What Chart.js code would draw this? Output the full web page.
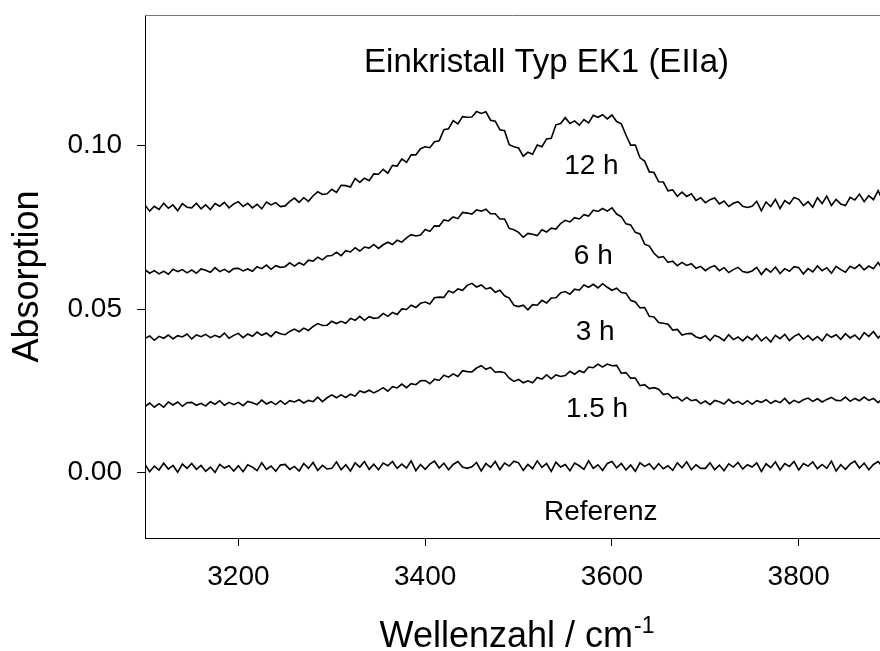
<!DOCTYPE html>
<html>
<head>
<meta charset="utf-8">
<script src="https://cdn.jsdelivr.net/npm/chart.js@4"></script>
<style>
  html, body { margin: 0; padding: 0; background: #fff; }
  canvas { display: block; }
</style>
</head>
<body>
<canvas id="spectra" width="880" height="651"></canvas>
<script>
// wavenumber grid in cm^-1
const wavenumbers = [
  3100, 3105, 3110, 3115, 3120, 3125, 3130, 3135, 3140, 3145,
  3150, 3155, 3160, 3165, 3170, 3175, 3180, 3185, 3190, 3195,
  3200, 3205, 3210, 3215, 3220, 3225, 3230, 3235, 3240, 3245,
  3250, 3255, 3260, 3265, 3270, 3275, 3280, 3285, 3290, 3295,
  3300, 3305, 3310, 3315, 3320, 3325, 3330, 3335, 3340, 3345,
  3350, 3355, 3360, 3365, 3370, 3375, 3380, 3385, 3390, 3395,
  3400, 3405, 3410, 3415, 3420, 3425, 3430, 3435, 3440, 3445,
  3450, 3455, 3460, 3465, 3470, 3475, 3480, 3485, 3490, 3495,
  3500, 3505, 3510, 3515, 3520, 3525, 3530, 3535, 3540, 3545,
  3550, 3555, 3560, 3565, 3570, 3575, 3580, 3585, 3590, 3595,
  3600, 3605, 3610, 3615, 3620, 3625, 3630, 3635, 3640, 3645,
  3650, 3655, 3660, 3665, 3670, 3675, 3680, 3685, 3690, 3695,
  3700, 3705, 3710, 3715, 3720, 3725, 3730, 3735, 3740, 3745,
  3750, 3755, 3760, 3765, 3770, 3775, 3780, 3785, 3790, 3795,
  3800, 3805, 3810, 3815, 3820, 3825, 3830, 3835, 3840, 3845,
  3850, 3855, 3860, 3865, 3870, 3875, 3880, 3885, 3890
];

// absorption spectra, each trace already shifted by its stacking offset
const absRef = [
  0.0025, 0.0003, 0.0020, 0.0008, 0.0029, 0.0011, 0.0022, 0.0001, 0.0026, 0.0013,
  0.0028, 0.0010, 0.0022, 0.0004, 0.0017, 0.0001, 0.0025, 0.0014, 0.0021, 0.0005,
  0.0021, 0.0003, 0.0024, 0.0017, 0.0006, 0.0030, 0.0010, 0.0020, 0.0004, 0.0023,
  0.0025, 0.0010, 0.0019, 0.0005, 0.0028, 0.0013, 0.0031, 0.0007, 0.0022, 0.0011,
  0.0013, 0.0033, 0.0009, 0.0024, 0.0005, 0.0030, 0.0017, 0.0034, 0.0010, 0.0026,
  0.0009, 0.0029, 0.0021, 0.0034, 0.0013, 0.0026, 0.0014, 0.0036, 0.0006, 0.0025,
  0.0010, 0.0026, 0.0035, 0.0014, 0.0029, 0.0009, 0.0025, 0.0034, 0.0017, 0.0013,
  0.0018, 0.0031, 0.0005, 0.0028, 0.0016, 0.0034, 0.0009, 0.0029, 0.0020, 0.0035,
  0.0030, 0.0007, 0.0025, 0.0012, 0.0036, 0.0016, 0.0028, 0.0004, 0.0032, 0.0017,
  0.0025, 0.0006, 0.0029, 0.0021, 0.0010, 0.0036, 0.0013, 0.0024, 0.0007, 0.0028,
  0.0034, 0.0015, 0.0028, 0.0008, 0.0023, 0.0004, 0.0030, 0.0019, 0.0027, 0.0010,
  0.0027, 0.0012, 0.0021, 0.0007, 0.0030, 0.0015, 0.0033, 0.0009, 0.0024, 0.0013,
  0.0013, 0.0030, 0.0009, 0.0023, 0.0006, 0.0027, 0.0017, 0.0031, 0.0011, 0.0024,
  0.0017, 0.0030, 0.0004, 0.0027, 0.0015, 0.0033, 0.0008, 0.0028, 0.0019, 0.0034,
  0.0008, 0.0028, 0.0020, 0.0033, 0.0012, 0.0025, 0.0013, 0.0035, 0.0005, 0.0024,
  0.0010, 0.0026, 0.0035, 0.0014, 0.0029, 0.0009, 0.0025, 0.0034, 0.0017
];
const abs1h5 = [
  0.0202, 0.0213, 0.0200, 0.0211, 0.0200, 0.0216, 0.0207, 0.0216, 0.0203, 0.0214,
  0.0215, 0.0206, 0.0212, 0.0204, 0.0217, 0.0209, 0.0220, 0.0206, 0.0215, 0.0208,
  0.0215, 0.0205, 0.0218, 0.0214, 0.0208, 0.0222, 0.0210, 0.0217, 0.0208, 0.0220,
  0.0209, 0.0220, 0.0216, 0.0223, 0.0213, 0.0221, 0.0217, 0.0231, 0.0217, 0.0229,
  0.0238, 0.0229, 0.0238, 0.0230, 0.0240, 0.0234, 0.0250, 0.0245, 0.0252, 0.0244,
  0.0251, 0.0260, 0.0249, 0.0263, 0.0259, 0.0271, 0.0260, 0.0272, 0.0269, 0.0281,
  0.0282, 0.0272, 0.0286, 0.0282, 0.0298, 0.0292, 0.0302, 0.0294, 0.0312, 0.0309,
  0.0308, 0.0320, 0.0327, 0.0316, 0.0322, 0.0307, 0.0309, 0.0306, 0.0289, 0.0279,
  0.0285, 0.0275, 0.0281, 0.0275, 0.0291, 0.0286, 0.0299, 0.0287, 0.0299, 0.0294,
  0.0297, 0.0310, 0.0301, 0.0312, 0.0306, 0.0323, 0.0321, 0.0332, 0.0323, 0.0332,
  0.0327, 0.0328, 0.0304, 0.0306, 0.0289, 0.0289, 0.0266, 0.0269, 0.0257, 0.0260,
  0.0255, 0.0239, 0.0242, 0.0228, 0.0231, 0.0219, 0.0230, 0.0220, 0.0223, 0.0211,
  0.0219, 0.0208, 0.0221, 0.0217, 0.0210, 0.0224, 0.0212, 0.0218, 0.0209, 0.0220,
  0.0209, 0.0220, 0.0215, 0.0223, 0.0212, 0.0220, 0.0214, 0.0227, 0.0211, 0.0221,
  0.0214, 0.0223, 0.0228, 0.0218, 0.0226, 0.0216, 0.0224, 0.0230, 0.0221, 0.0220,
  0.0231, 0.0218, 0.0227, 0.0220, 0.0231, 0.0221, 0.0227, 0.0214, 0.0228
];
const abs3h = [
  0.0411, 0.0418, 0.0405, 0.0417, 0.0411, 0.0421, 0.0409, 0.0419, 0.0415, 0.0424,
  0.0409, 0.0421, 0.0416, 0.0423, 0.0413, 0.0420, 0.0414, 0.0427, 0.0411, 0.0420,
  0.0426, 0.0413, 0.0424, 0.0417, 0.0430, 0.0420, 0.0427, 0.0416, 0.0431, 0.0425,
  0.0422, 0.0432, 0.0439, 0.0431, 0.0442, 0.0435, 0.0447, 0.0456, 0.0450, 0.0451,
  0.0463, 0.0456, 0.0463, 0.0457, 0.0472, 0.0466, 0.0478, 0.0466, 0.0477, 0.0472,
  0.0474, 0.0487, 0.0478, 0.0490, 0.0484, 0.0501, 0.0499, 0.0512, 0.0505, 0.0518,
  0.0522, 0.0516, 0.0535, 0.0537, 0.0536, 0.0556, 0.0550, 0.0562, 0.0558, 0.0573,
  0.0579, 0.0568, 0.0574, 0.0562, 0.0566, 0.0552, 0.0558, 0.0541, 0.0534, 0.0512,
  0.0508, 0.0512, 0.0498, 0.0514, 0.0512, 0.0527, 0.0519, 0.0534, 0.0535, 0.0550,
  0.0554, 0.0546, 0.0561, 0.0558, 0.0574, 0.0567, 0.0576, 0.0565, 0.0578, 0.0567,
  0.0558, 0.0564, 0.0551, 0.0549, 0.0527, 0.0522, 0.0504, 0.0505, 0.0478, 0.0476,
  0.0459, 0.0457, 0.0454, 0.0436, 0.0438, 0.0421, 0.0425, 0.0426, 0.0415, 0.0411,
  0.0419, 0.0404, 0.0420, 0.0414, 0.0404, 0.0422, 0.0407, 0.0415, 0.0403, 0.0417,
  0.0406, 0.0421, 0.0403, 0.0415, 0.0400, 0.0420, 0.0410, 0.0423, 0.0404, 0.0417,
  0.0424, 0.0408, 0.0419, 0.0405, 0.0416, 0.0403, 0.0424, 0.0414, 0.0422, 0.0408,
  0.0425, 0.0412, 0.0421, 0.0407, 0.0428, 0.0417, 0.0432, 0.0412, 0.0426
];
const abs6h = [
  0.0621, 0.0610, 0.0618, 0.0608, 0.0616, 0.0607, 0.0622, 0.0615, 0.0621, 0.0611,
  0.0620, 0.0610, 0.0623, 0.0619, 0.0613, 0.0627, 0.0615, 0.0622, 0.0613, 0.0624,
  0.0625, 0.0617, 0.0623, 0.0616, 0.0630, 0.0624, 0.0635, 0.0622, 0.0633, 0.0628,
  0.0630, 0.0642, 0.0632, 0.0642, 0.0635, 0.0650, 0.0647, 0.0659, 0.0651, 0.0663,
  0.0664, 0.0674, 0.0664, 0.0679, 0.0675, 0.0688, 0.0678, 0.0690, 0.0687, 0.0698,
  0.0686, 0.0697, 0.0705, 0.0698, 0.0711, 0.0705, 0.0718, 0.0728, 0.0724, 0.0727,
  0.0744, 0.0738, 0.0755, 0.0754, 0.0773, 0.0770, 0.0782, 0.0777, 0.0796, 0.0794,
  0.0791, 0.0804, 0.0800, 0.0806, 0.0792, 0.0792, 0.0776, 0.0776, 0.0747, 0.0743,
  0.0735, 0.0720, 0.0732, 0.0729, 0.0725, 0.0743, 0.0736, 0.0748, 0.0745, 0.0762,
  0.0772, 0.0767, 0.0780, 0.0776, 0.0789, 0.0785, 0.0803, 0.0799, 0.0808, 0.0800,
  0.0810, 0.0791, 0.0783, 0.0761, 0.0758, 0.0735, 0.0730, 0.0699, 0.0693, 0.0671,
  0.0658, 0.0661, 0.0643, 0.0647, 0.0633, 0.0643, 0.0634, 0.0639, 0.0625, 0.0631,
  0.0618, 0.0628, 0.0633, 0.0618, 0.0627, 0.0612, 0.0621, 0.0628, 0.0615, 0.0612,
  0.0617, 0.0628, 0.0606, 0.0624, 0.0613, 0.0629, 0.0609, 0.0624, 0.0616, 0.0630,
  0.0627, 0.0608, 0.0624, 0.0614, 0.0632, 0.0618, 0.0627, 0.0610, 0.0631, 0.0621,
  0.0613, 0.0631, 0.0624, 0.0636, 0.0620, 0.0632, 0.0624, 0.0643, 0.0620
];
const abs12h = [
  0.0818, 0.0800, 0.0815, 0.0805, 0.0824, 0.0809, 0.0819, 0.0801, 0.0823, 0.0812,
  0.0810, 0.0824, 0.0807, 0.0819, 0.0805, 0.0823, 0.0815, 0.0827, 0.0810, 0.0822,
  0.0829, 0.0814, 0.0824, 0.0810, 0.0821, 0.0807, 0.0828, 0.0819, 0.0826, 0.0814,
  0.0816, 0.0830, 0.0840, 0.0827, 0.0841, 0.0830, 0.0847, 0.0859, 0.0851, 0.0853,
  0.0867, 0.0857, 0.0879, 0.0878, 0.0874, 0.0900, 0.0888, 0.0901, 0.0893, 0.0914,
  0.0913, 0.0928, 0.0916, 0.0940, 0.0938, 0.0960, 0.0949, 0.0972, 0.0972, 0.0991,
  0.0997, 0.0994, 0.1012, 0.1015, 0.1049, 0.1052, 0.1077, 0.1067, 0.1089, 0.1087,
  0.1088, 0.1105, 0.1099, 0.1104, 0.1078, 0.1075, 0.1049, 0.1046, 0.1003, 0.0997,
  0.0993, 0.0968, 0.0980, 0.0974, 0.1002, 0.0997, 0.1021, 0.1023, 0.1064, 0.1068,
  0.1086, 0.1068, 0.1076, 0.1063, 0.1080, 0.1070, 0.1093, 0.1087, 0.1095, 0.1082,
  0.1094, 0.1074, 0.1067, 0.1033, 0.1002, 0.1002, 0.0963, 0.0953, 0.0920, 0.0918,
  0.0890, 0.0889, 0.0862, 0.0865, 0.0845, 0.0858, 0.0845, 0.0853, 0.0833, 0.0841,
  0.0826, 0.0835, 0.0840, 0.0822, 0.0831, 0.0814, 0.0824, 0.0829, 0.0815, 0.0811,
  0.0815, 0.0830, 0.0801, 0.0828, 0.0814, 0.0836, 0.0808, 0.0832, 0.0822, 0.0842,
  0.0836, 0.0817, 0.0829, 0.0812, 0.0841, 0.0823, 0.0846, 0.0817, 0.0836, 0.0822,
  0.0817, 0.0842, 0.0834, 0.0852, 0.0829, 0.0847, 0.0835, 0.0863, 0.0830
];

const xTicks = [3200, 3400, 3600, 3800];
const yTicks = [0.00, 0.05, 0.10];

// curve captions, placed in data coordinates
const curveNames = ['Referenz', '1.5 h', '3 h', '6 h', '12 h'];
const curveLabelX = [3588, 3584, 3582, 3580, 3578];
const curveLabelY = [-0.0145, 0.0170, 0.0406, 0.0638, 0.0913];

const FONT = '"Liberation Sans", Arial, Helvetica, sans-serif';

const traces = [absRef, abs1h5, abs3h, abs6h, abs12h];
const datasets = traces.map((ys, k) => ({
  label: curveNames[k],
  data: wavenumbers.map((x, i) => ({ x: x, y: ys[i] })),
  borderColor: '#000',
  borderWidth: 1.6,
  pointRadius: 0,
  tension: 0,
  fill: false
}));

// top frame line, title inside the frame, curve captions, x axis title
const textLayer = {
  id: 'textLayer',
  beforeDatasetsDraw(chart) {
    const { ctx, chartArea: a } = chart;
    ctx.save();
    ctx.strokeStyle = '#777';
    ctx.lineWidth = 1;
    ctx.beginPath();
    ctx.moveTo(a.left, a.top + 0.5);
    ctx.lineTo(a.right, a.top + 0.5);
    ctx.stroke();
    ctx.restore();
  },
  afterDraw(chart) {
    const { ctx, scales: { x, y } } = chart;
    ctx.save();
    ctx.fillStyle = '#000';
    ctx.textAlign = 'center';
    ctx.textBaseline = 'alphabetic';

    ctx.font = '33px ' + FONT;
    ctx.fillText('Einkristall Typ EK1 (EIIa)', x.getPixelForValue(3530), y.getPixelForValue(0.1225));

    ctx.font = '28px ' + FONT;
    curveNames.forEach((name, k) => {
      ctx.fillText(name, x.getPixelForValue(curveLabelX[k]), y.getPixelForValue(curveLabelY[k]));
    });

    const main = 'Wellenzahl / cm';
    const sup = '-1';
    ctx.font = '36px ' + FONT;
    const wMain = ctx.measureText(main).width;
    ctx.font = '23px ' + FONT;
    const wSup = ctx.measureText(sup).width;
    const cx = (chart.chartArea.left + chart.chartArea.right) / 2 + 4;
    const x0 = cx - (wMain + wSup) / 2;
    ctx.textAlign = 'left';
    ctx.font = '36px ' + FONT;
    ctx.fillText(main, x0, 647);
    ctx.font = '23px ' + FONT;
    ctx.fillText(sup, x0 + wMain + 1, 633);
    ctx.restore();
  }
};

new Chart(document.getElementById('spectra').getContext('2d'), {
  type: 'line',
  data: { datasets: datasets },
  plugins: [textLayer],
  options: {
    responsive: false,
    animation: false,
    devicePixelRatio: 1,
    layout: { padding: { top: 15, left: 0, right: 0, bottom: 0 }, autoPadding: false },
    plugins: {
      legend: { display: false },
      tooltip: { enabled: false }
    },
    scales: {
      x: {
        type: 'linear',
        position: 'bottom',
        min: 3100,
        max: 3887,
        afterBuildTicks: s => { s.ticks = xTicks.map(v => ({ value: v })); },
        afterFit: s => {
          s.height = 113;
          s.paddingLeft = 0;
          s.paddingRight = 0;
        },
        grid: { drawOnChartArea: false, tickLength: 8, color: '#000', lineWidth: 1 },
        border: { color: '#000', width: 1 },
        ticks: {
          color: '#000',
          font: { family: FONT, size: 28 },
          padding: 14,
          maxRotation: 0,
          callback: v => String(v)
        }
      },
      y: {
        type: 'linear',
        min: -0.02,
        max: 0.14,
        afterBuildTicks: s => { s.ticks = yTicks.map(v => ({ value: v })); },
        afterFit: s => {
          s.width = 145;
          s.paddingTop = 0;
          s.paddingBottom = 0;
        },
        grid: { drawOnChartArea: false, tickLength: 8, color: '#000', lineWidth: 1 },
        border: { color: '#000', width: 1 },
        ticks: {
          color: '#000',
          font: { family: FONT, size: 28 },
          padding: 15,
          callback: v => v.toFixed(2)
        },
        title: {
          display: true,
          text: 'Absorption',
          color: '#000',
          font: { family: FONT, size: 36 },
          padding: { top: 6, bottom: 0 }
        }
      }
    }
  }
});
</script>
</body>
</html>
